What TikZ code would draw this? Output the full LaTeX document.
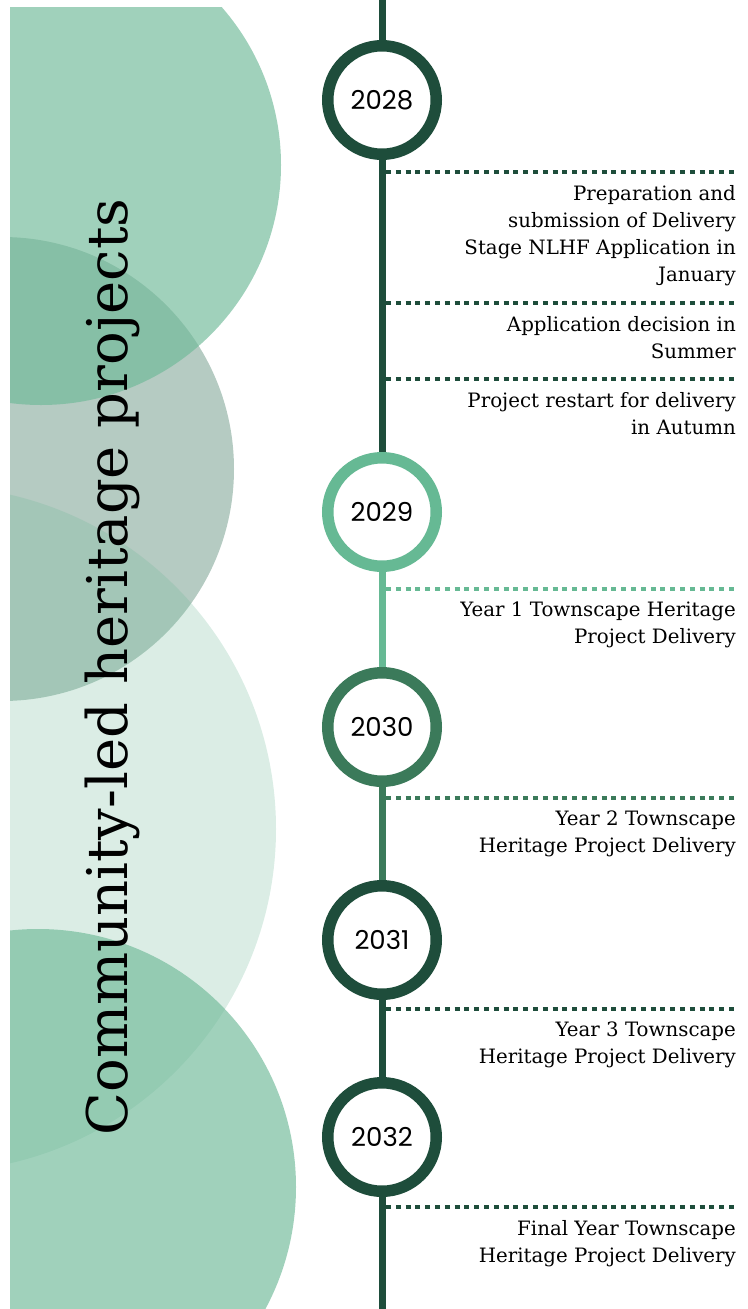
\documentclass[tikz,border=0pt]{standalone}
\usepackage{fontspec}
\setmainfont{DejaVu Serif}
\newfontfamily\yearfont{Poppins}
\usetikzlibrary{positioning}

\definecolor{tlDark}{HTML}{1E4D3B}
\definecolor{tlLight}{HTML}{66B994}
\definecolor{tlMid}{HTML}{3B7A5A}
\definecolor{blobGreen}{RGB}{111,185,152}
\definecolor{blobGrey}{RGB}{181,203,194}

\begin{document}
\begin{tikzpicture}[x=1pt,y=-1pt]
		\tikzset{year/.style={shape = circle, draw = #1, line width = 11.5pt, fill = white,
				minimum size = 108.5pt, inner sep = 0pt, font = \yearfont\fontsize{26}{26}\selectfont}}
		\tikzset{spine/.style={draw = #1, line width = 7pt}}
		\tikzset{dots/.style={draw = #1, line width = 4.5pt, dash pattern = on 5pt off 4.8pt}}
		\tikzset{note/.style={align = right, inner sep = 0pt, font = \fontsize{19.8}{27}\selectfont}}
		\useasboundingbox (0,0) rectangle (747,1309);
		%blobs
		\begin{scope}
			\clip (10,7) rectangle (400,1309);
			\fill[blobGrey] (2,469) circle[radius = 232pt];
			\fill[blobGreen, opacity = 0.25] (-67,829) circle[radius = 343pt];
			\fill[blobGreen, opacity = 0.66] (41,165) circle[radius = 240pt];
			\fill[blobGreen, opacity = 0.66] (38,1187) circle[radius = 258pt];
		\end{scope}
		\node[rotate = 90, anchor = base, font = \fontsize{56}{56}\selectfont] (title) at (127,667) {Community-led heritage projects};
		%years
		\node[year = tlDark] (y28) at (382,100) {2028};
		\node[year = tlLight] (y29) at (382,512) {2029};
		\node[year = tlMid] (y30) at (382,727) {2030};
		\node[year = tlDark] (y31) at (382,940) {2031};
		\node[year = tlDark] (y32) at (382,1137) {2032};
		\coordinate (top) at (382,0);
		\coordinate (bottom) at (382,1309);
		%spine
		\draw[spine = tlDark] (top) -- (y28);
		\draw[spine = tlDark] (y28) -- (y29);
		\draw[spine = tlLight] (y29) -- (y30);
		\draw[spine = tlMid] (y30) -- (y31);
		\draw[spine = tlDark] (y31) -- (y32);
		\draw[spine = tlDark] (y32) -- (bottom);
		%dotted rules
		\coordinate (d1) at (734,172);
		\coordinate (d2) at (734,303);
		\coordinate (d3) at (734,379);
		\coordinate (d4) at (734,589);
		\coordinate (d5) at (734,798);
		\coordinate (d6) at (734,1009);
		\coordinate (d7) at (734,1207);
		\draw[dots = tlDark] (386,172) -- (d1);
		\draw[dots = tlDark] (386,303) -- (d2);
		\draw[dots = tlDark] (386,379) -- (d3);
		\draw[dots = tlLight] (386,589) -- (d4);
		\draw[dots = tlMid] (386,798) -- (d5);
		\draw[dots = tlDark] (386,1009) -- (d6);
		\draw[dots = tlDark] (386,1207) -- (d7);
		%notes
		\node[note, below left = 13pt and -2pt of d1] (n1) {Preparation and\\submission of Delivery\\Stage NLHF Application in\\January};
		\node[note, below left = 13pt and -2pt of d2] (n2) {Application decision in\\Summer};
		\node[note, below left = 13pt and -2pt of d3] (n3) {Project restart for delivery\\in Autumn};
		\node[note, below left = 13pt and -2pt of d4] (n4) {Year 1 Townscape Heritage\\Project Delivery};
		\node[note, below left = 13pt and -2pt of d5] (n5) {Year 2 Townscape\\Heritage Project Delivery};
		\node[note, below left = 13pt and -2pt of d6] (n6) {Year 3 Townscape\\Heritage Project Delivery};
		\node[note, below left = 13pt and -2pt of d7] (n7) {Final Year Townscape\\Heritage Project Delivery};
\end{tikzpicture}
\end{document}
